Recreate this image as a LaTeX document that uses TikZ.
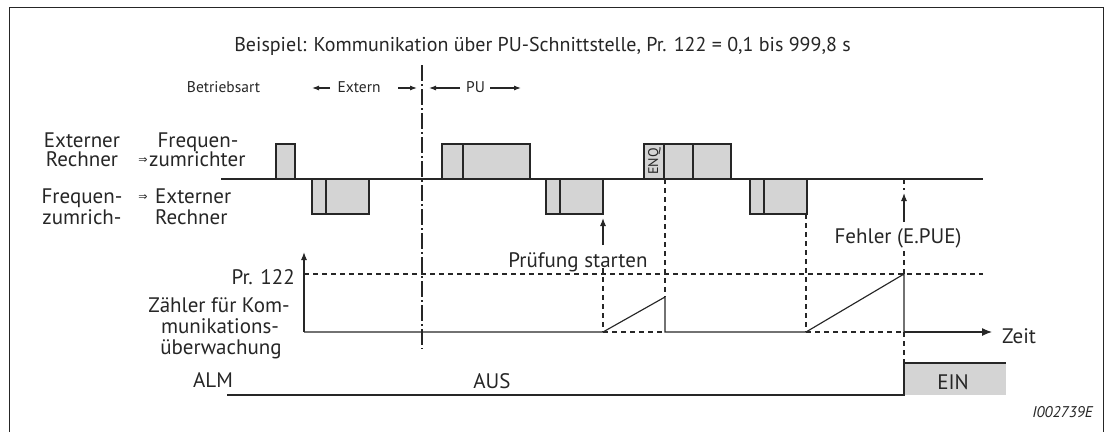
\documentclass[tikz,border=0pt]{standalone}
\usepackage{fontspec}
\setmainfont{PT Sans}
\newfontfamily\symfont{DejaVu Sans}
\usetikzlibrary{arrows.meta}
\definecolor{ln}{HTML}{262626}
\definecolor{bx}{HTML}{D4D4D4}
\tikzset{
  lbl/.style={anchor=base, inner sep=0pt, text=ln, font=\fontsize{21}{24}\selectfont},
  ttl/.style={anchor=base, inner sep=0pt, text=ln, font=\fontsize{20}{24}\selectfont},
  sml/.style={anchor=base, inner sep=0pt, text=ln, font=\fontsize{15.5}{18}\selectfont},
  pulse/.style={draw=ln, fill=bx, line width=1.15pt},
  sig/.style={draw=ln, line width=1.15pt},
  dsh/.style={draw=ln, line width=1.1pt, dash pattern=on 5pt off 4pt},
  dashdot/.style={draw=ln, line width=1.1pt, dash pattern=on 16pt off 3pt on 2pt off 3pt},
  sarr/.style={draw=ln, line width=1.1pt, -{Latex[length=7pt,width=5pt]}},
  barr/.style={draw=ln, line width=1.15pt, -{Latex[length=10pt,width=8pt]}}
}
\begin{document}
\begin{tikzpicture}[x=1pt,y=-1pt]
\useasboundingbox (0,0) rectangle (1105,432);
% frame
\draw[draw=ln, line width=1pt] (9,432) -- (9,7) -- (1103,7) -- (1103,432);

% title
\node[ttl] (title) at (542.5,51) {Beispiel: Kommunikation über PU-Schnittstelle, Pr. 122 = 0,1 bis 999,8 s};

% operating mode
\node[sml] (betr) at (223.5,92) {Betriebsart};
\node[sml] (ext) at (359,92) {Extern};
\node[sml] (pu) at (475.5,92) {PU};
\coordinate (e1) at (330,88); \coordinate (e1t) at (312,88);
\coordinate (e2) at (398,88); \coordinate (e2t) at (417,88);
\coordinate (p1) at (460,88); \coordinate (p1t) at (429,88);
\coordinate (p2) at (490,88); \coordinate (p2t) at (521,88);
\draw[sarr] (e1) -- (e1t);
\draw[sarr] (e2) -- (e2t);
\draw[sarr] (p1) -- (p1t);
\draw[sarr] (p2) -- (p2t);

% mode change line
\coordinate (mc1) at (422,65); \coordinate (mc2) at (422,349);
\draw[dashdot] (mc1) -- (mc2);

% left labels
\node[lbl] (extR1) at (82,147) {Externer};
\node[lbl] (extR2) at (82,166) {Rechner};
\node[lbl] (fu1) at (198,147) {Frequen-};
\node[lbl, anchor=base west] (fu2) at (149,166) {zumrichter};
\node[inner sep=0pt, text=ln, font=\symfont\fontsize{11}{12}\selectfont] (ar1) at (143,161) {⇒};
\node[lbl] (fl1) at (82,203) {Frequen-};
\node[lbl] (fl2) at (82,224) {zumrich-};
\node[lbl, anchor=base west] (er1) at (155,203) {Externer};
\node[lbl, anchor=base west] (er2) at (155,224) {Rechner};
\node[inner sep=0pt, text=ln, font=\symfont\fontsize{11}{12}\selectfont] (ar2) at (143,198) {⇒};

% signal line
\coordinate (s0) at (221,179); \coordinate (s1) at (983,179);
\draw[sig] (s0) -- (s1);

% upper pulses
\draw[pulse] (276,144) rectangle (295,179);
\draw[pulse] (442,144) rectangle (530,179); \draw[sig] (463,144) -- (463,179);
\draw[pulse] (644,144) rectangle (731,179); \draw[sig] (664,144) -- (664,179); \draw[sig] (693,144) -- (693,179);
\node[inner sep=0pt, text=ln, rotate=90, font=\fontsize{14}{15}\selectfont] (enq) at (654.5,161.5) {ENQ};

% lower pulses
\draw[pulse] (312,179) rectangle (369,214); \draw[sig] (326,179) -- (326,214);
\draw[pulse] (546,179) rectangle (603,214); \draw[sig] (560,179) -- (560,214);
\draw[pulse] (750,179) rectangle (807,214); \draw[sig] (764,179) -- (764,214);

% counter
\node[lbl, anchor=base east] (pr) at (295,284) {Pr. 122};
\node[lbl] (z1) at (219,312) {Zähler für Kom-};
\node[lbl] (z2) at (220,333) {munikations-};
\node[lbl] (z3) at (221,354) {überwachung};
\coordinate (o) at (304,332);
\coordinate (ytop) at (304,252);
\draw[barr, -{Latex[length=8pt,width=6pt]}] (o) -- (ytop);
\coordinate (r1a) at (603,332); \coordinate (r1b) at (665,297); \coordinate (r1c) at (665,332);
\coordinate (r2a) at (806,332); \coordinate (r2b) at (904,274); \coordinate (r2c) at (904,332);
\coordinate (xend) at (992,332);
\draw[sig] (o) -- (r1a) -- (r1b) -- (r1c) -- (r2a) -- (r2b) -- (r2c);
\draw[barr] (r2c) -- (xend);
\node[lbl, anchor=base west] (zeit) at (1002,343) {Zeit};
\draw[dsh] (r1a) -- (r1c);
\draw[dsh] (r2a) -- (r2c);
\coordinate (pl1) at (304,274); \coordinate (pl2) at (983,274);
\draw[dsh] (pl1) -- (pl2);

% dashed verticals
\draw[dsh] (603,268) -- (r1a);
\draw[dsh] (665,179) -- (r1b);
\draw[dsh] (806,214) -- (r2a);
\draw[dsh] (904,179) -- (904,190);
\draw[dsh] (904,251) -- (r2b);
\draw[dsh] (r2c) -- (904,363);

% event arrows
\coordinate (pa0) at (603,245); \coordinate (pa1) at (603,218);
\draw[sarr, -{Latex[length=8pt,width=6pt]}] (pa0) -- (pa1);
\node[lbl] (pst) at (578,267) {Prüfung starten};
\coordinate (fa0) at (904,222); \coordinate (fa1) at (904,193);
\draw[sarr, -{Latex[length=8pt,width=6pt]}] (fa0) -- (fa1);
\node[lbl] (feh) at (898,243) {Fehler (E.PUE)};

% ALM
\node[lbl] (alm) at (213,387) {ALM};
\node[lbl] (aus) at (492,388) {AUS};
\fill[bx] (904,363) rectangle (1006,395);
\draw[sig] (227,395) -- (904,395) -- (904,363) -- (1006,363);
\node[lbl] (ein) at (953,389) {EIN};

% figure number
\node[anchor=base east, inner sep=0pt, text=ln, font=\itshape\fontsize{15.5}{17}\selectfont] (fig) at (1093,417) {I002739E};
\end{tikzpicture}
\end{document}
